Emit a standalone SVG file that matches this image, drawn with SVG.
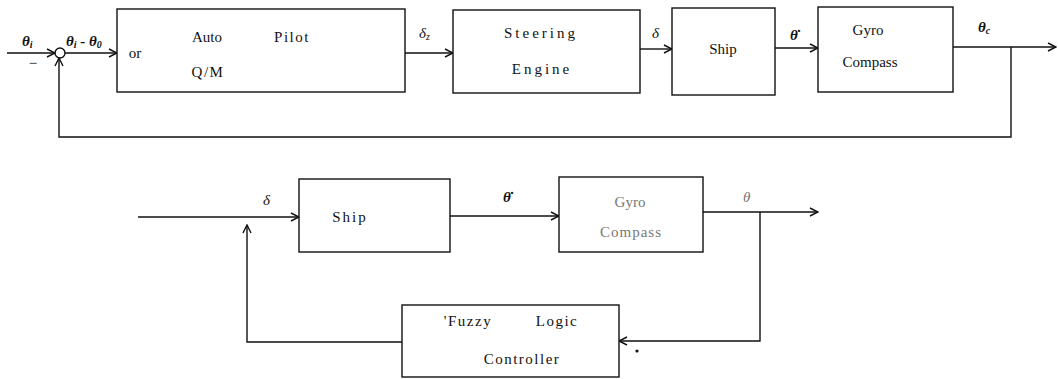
<svg xmlns="http://www.w3.org/2000/svg" width="1058" height="379" viewBox="0 0 1058 379">
<style>
.box{fill:#fff;stroke:#111;stroke-width:1.4}
.ln{fill:none;stroke:#111;stroke-width:1.4}
.t{font-family:'Liberation Serif','Times New Roman',serif;font-size:15px;fill:#111;text-anchor:middle}
.m{font-family:'Liberation Serif','Times New Roman',serif;font-style:italic;font-weight:bold;font-size:15px;fill:#111}
.s{font-size:10px}
.g{fill:#777}
</style>
<defs>
<marker id="a" markerWidth="10" markerHeight="10" refX="9" refY="5" orient="auto" markerUnits="userSpaceOnUse"><path d="M1,1 L9,5 L1,9" fill="none" stroke="#111" stroke-width="1.4"/></marker>
</defs>
<g id="connectors">
<path class="ln" d="M7,53 H55" marker-end="url(#a)"/>
<path class="ln" d="M65,53 H117" marker-end="url(#a)"/>
<path class="ln" d="M405,53 H453" marker-end="url(#a)"/>
<path class="ln" d="M640,49 H672" marker-end="url(#a)"/>
<path class="ln" d="M775,48 H818" marker-end="url(#a)"/>
<path class="ln" d="M953,47 H1056" marker-end="url(#a)"/>
<path class="ln" d="M1011,47 V137 H59 V58" marker-end="url(#a)"/>
<path class="ln" d="M138,217 H299" marker-end="url(#a)"/>
<path class="ln" d="M450,216 H559" marker-end="url(#a)"/>
<path class="ln" d="M703,212 H818" marker-end="url(#a)"/>
<path class="ln" d="M760,212 V341 H619" marker-end="url(#a)"/>
<path class="ln" d="M402,342 H247 V225" marker-end="url(#a)"/>
<circle cx="637" cy="351" r="1.6" fill="#111"/>
<text class="m" x="22" y="46">θ<tspan class="s" dy="2">i</tspan></text>
<text class="t" x="33" y="68">−</text>
<text class="m" x="66" y="46">θ<tspan class="s" dy="2">i</tspan><tspan dy="-2"> - θ</tspan><tspan class="s" dy="2">0</tspan></text>
<text class="m" x="419" y="38" style="font-weight:normal">δ<tspan class="s" dy="2">z</tspan></text>
<text class="m" x="652" y="38" style="font-weight:normal">δ</text>
<text class="m" x="790" y="40">θ̇</text>
<text class="m" x="978" y="32">θ<tspan class="s" dy="2">c</tspan></text>
<text class="m" x="263" y="205" style="font-weight:normal">δ</text>
<text class="m" x="503" y="202">θ̇</text>
<text class="m g" x="743" y="202" style="font-weight:normal">θ</text>
</g>
<g id="sum"><circle class="ln" cx="60" cy="53" r="5"/></g>
<g id="autopilot">
<rect class="box" x="117" y="9" width="288" height="83"/>
<text class="t" x="207" y="42">Auto</text>
<text class="t" x="292" y="42" style="letter-spacing:1.5px">Pilot</text>
<text class="t" x="135" y="58">or</text>
<text class="t" x="208" y="77" style="letter-spacing:1.5px">Q/M</text>
</g>
<g id="steering">
<rect class="box" x="453" y="10" width="187" height="83"/>
<text class="t" x="541" y="38" style="letter-spacing:3px">Steering</text>
<text class="t" x="542" y="74" style="letter-spacing:3px">Engine</text>
</g>
<g id="ship">
<rect class="box" x="672" y="8" width="103" height="87"/>
<text class="t" x="723" y="54">Ship</text>
</g>
<g id="gyro">
<rect class="box" x="818" y="7" width="135" height="85"/>
<text class="t" x="868" y="35">Gyro</text>
<text class="t" x="870" y="67">Compass</text>
</g>
<g id="ship2">
<rect class="box" x="299" y="179" width="151" height="73"/>
<text class="t" x="350" y="222" style="letter-spacing:2px">Ship</text>
</g>
<g id="gyro2">
<rect class="box" x="559" y="177" width="144" height="75"/>
<text class="t g" x="630" y="207">Gyro</text>
<text class="t g" x="631" y="237" style="letter-spacing:1px">Compass</text>
</g>
<g id="flc">
<rect class="box" x="402" y="305" width="217" height="72"/>
<text class="t" x="468" y="326" style="letter-spacing:1.5px">'Fuzzy</text>
<text class="t" x="557" y="326" style="letter-spacing:1.5px">Logic</text>
<text class="t" x="522" y="364" style="letter-spacing:1.5px">Controller</text>
</g>
</svg>
